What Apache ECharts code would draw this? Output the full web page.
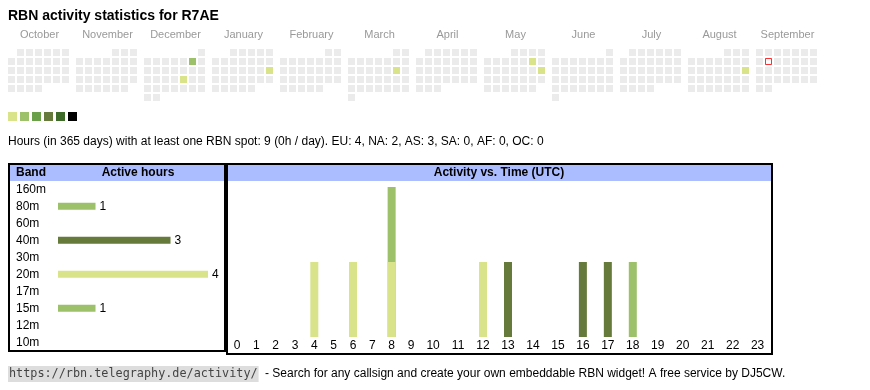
<!DOCTYPE html>
<html><head><meta charset="utf-8">
<script src="https://cdn.jsdelivr.net/npm/echarts@6/dist/echarts.min.js"></script>
<style>html,body{margin:0;padding:0;background:#fff}#c{width:870px;height:390px}</style>
</head><body><div id="c"></div>
<script>
// ---------- data ----------
const titleText = 'RBN activity statistics for R7AE';
const months = ['2024-10','2024-11','2024-12','2025-01','2025-02','2025-03','2025-04','2025-05','2025-06','2025-07','2025-08','2025-09'];
const monthNames = ['October','November','December','January','February','March','April','May','June','July','August','September'];
const activeDays = [['2024-12-07',2],['2024-12-20',1],['2025-01-19',1],['2025-03-15',1],['2025-05-10',1],['2025-05-18',1],['2025-08-17',1]];
const today = '2025-09-09';
const levels = [1,2,3,4,5,6];
const statsText = 'Hours (in 365 days) with at least one RBN spot: 9 (0h / day). EU: 4, NA: 2, AS: 3, SA: 0, AF: 0, OC: 0';
const bands = ['160m','80m','60m','40m','30m','20m','17m','15m','12m','10m'];
const bandHours = [0,1,0,3,0,4,0,1,0,0];
const hours = [0,1,2,3,4,5,6,7,8,9,10,11,12,13,14,15,16,17,18,19,20,21,22,23];
const hours20m = [0,0,0,0,1,0,1,0,1,0,0,0,1,0,0,0,0,0,0,0,0,0,0,0];
const hours40m = [0,0,0,0,0,0,0,0,0,0,0,0,0,1,0,0,1,1,0,0,0,0,0,0];
const hours80m = [0,0,0,0,0,0,0,0,1,0,0,0,0,0,0,0,0,0,0,0,0,0,0,0];
const hours15m = [0,0,0,0,0,0,0,0,0,0,0,0,0,0,0,0,0,0,1,0,0,0,0,0];
const linkText = 'https://rbn.telegraphy.de/activity/';
const footerText = '- Search for any callsign and create your own embeddable RBN widget! A free service by DJ5CW.';

// ---------- styles ----------
const levelColors = ['#d9e38a','#9cc16a','#6aa047','#667a3b','#3e6b28','#000000'];
const bandColor = {'160m':levelColors[0],'80m':levelColors[1],'60m':levelColors[1],'40m':levelColors[3],'30m':levelColors[3],'20m':levelColors[0],'17m':levelColors[1],'15m':levelColors[1],'12m':levelColors[0],'10m':levelColors[0]};
const FONT = '"Liberation Sans", Arial, sans-serif';
const HEAD = '#abbcff';

// hour columns laid out like auto-width table cells (width depends on label length)
function cellW(h){ return String(h).length === 1 ? 19.33 : 24.96; }
const hourX = []; let acc = 0;
hours.forEach(h => { hourX.push(acc + cellW(h)/2); acc += cellW(h); });
const totalW = acc;

const chart = echarts.init(document.getElementById('c'), null, {renderer:'canvas'});

const calendars = months.map((m,i) => ({
  range: m, orient: 'vertical', left: 7 + 68*i, top: 48, cellSize: [9,9],
  splitLine: {show:false},
  itemStyle: {color:'#ebebeb', borderColor:'#fff', borderWidth:2},
  dayLabel: {show:false, firstDay:1}, monthLabel:{show:false}, yearLabel:{show:false}
}));

const series = [];
months.forEach((m,i) => {
  series.push({
    type:'scatter', coordinateSystem:'calendar', calendarIndex:i,
    data: activeDays.filter(d => d[0].slice(0,7) === m),
    symbol:'rect', symbolSize:7, itemStyle:{opacity:1}, silent:true
  });
});
const heatIdx = series.map((s,i)=>i);
series.push({
  type:'scatter', coordinateSystem:'calendar', calendarIndex: months.indexOf(today.slice(0,7)),
  data:[[today,0]], symbol:'rect', symbolSize:6,
  itemStyle:{color:'#fff', borderColor:'#ff0000', borderWidth:1}, silent:true
});
// band chart
series.push({
  type:'bar', xAxisIndex:0, yAxisIndex:0, barWidth:7,
  data: bandHours.map((v,i)=>({value:v, itemStyle:{color:bandColor[bands[i]]}})),
  label:{show:true, position:'right', distance:4, color:'#000', fontSize:12, fontFamily:FONT,
    formatter: p => p.value > 0 ? String(p.value) : ''},
  silent:true
});
// activity vs time: stacked by hand (cumulative totals drawn back to front)
const stackList = [[hours20m,'20m'],[hours40m,'40m'],[hours80m,'80m'],[hours15m,'15m']];
const cumulative = [];
stackList.forEach(([arr], k) => {
  cumulative.push(arr.map((v,i) => v + (k > 0 ? cumulative[k-1][i] : 0)));
});
for (let k = stackList.length - 1; k >= 0; k--) {
  const b = stackList[k][1];
  series.push({
    type:'bar', xAxisIndex:1, yAxisIndex:1, barWidth:8, barGap:'-100%', name:b,
    data: cumulative[k].map((v,i)=>[hourX[i], stackList[k][0][i] > 0 ? v : 0]),
    itemStyle:{color:bandColor[b]}, z: 10 + (stackList.length - k), silent:true
  });
}

const graphics = [];
// month labels
monthNames.forEach((n,i) => graphics.push({type:'text', x: 8 + 68*i + 31.5, y: 35,
  style:{text:n, fill:'#999', font:'11px '+FONT, textAlign:'center', textVerticalAlign:'middle'}}));
graphics.push({type:'text', x:8, y:142, style:{text:statsText, fill:'#000', font:'12px '+FONT, textVerticalAlign:'middle'}});
// boxes
graphics.push({type:'rect', shape:{x:10,y:165,width:214,height:16}, style:{fill:HEAD}, z:-1});
graphics.push({type:'rect', shape:{x:228,y:165,width:543,height:16}, style:{fill:HEAD}, z:-1});
graphics.push({type:'rect', shape:{x:9,y:164,width:216,height:187}, style:{fill:null, stroke:'#000', lineWidth:2}});
graphics.push({type:'rect', shape:{x:227,y:164,width:545,height:190}, style:{fill:null, stroke:'#000', lineWidth:2}});
graphics.push({type:'text', x:16, y:173, style:{text:'Band', fill:'#000', font:'bold 12px '+FONT, textVerticalAlign:'middle'}});
graphics.push({type:'text', x:138, y:173, style:{text:'Active hours', fill:'#000', font:'bold 12px '+FONT, textAlign:'center', textVerticalAlign:'middle'}});
graphics.push({type:'text', x:499, y:173, style:{text:'Activity vs. Time (UTC)', fill:'#000', font:'bold 12px '+FONT, textAlign:'center', textVerticalAlign:'middle'}});
// footer
graphics.push({type:'text', x:8, y:374, style:{text:linkText, fill:'#444', font:'11.8px "DejaVu Sans Mono", monospace', textVerticalAlign:'middle', backgroundColor:'#dddddd', padding:[2,1,2,1]}});
graphics.push({type:'text', x:265, y:374, style:{text:footerText, fill:'#000', font:'12px '+FONT, textVerticalAlign:'middle'}});

chart.setOption({
  animation:false,
  title:{text:titleText, left:8, top:9, padding:0, textStyle:{fontSize:14, fontWeight:'bold', color:'#000', fontFamily:FONT}},
  calendar: calendars,
  visualMap: {
    type:'piecewise', orient:'horizontal', left:8, top:112, padding:0,
    itemWidth:9, itemHeight:9, itemGap:3, itemSymbol:'rect', showLabel:false, selectedMode:false,
    seriesIndex: heatIdx,
    pieces: levels.map((v,i) => i < levels.length-1 ? {value:v, color:levelColors[i]} : {min:v, color:levelColors[i]})
  },
  grid:[
    {left:58, top:180.8, width:150, height:170},
    {left:237 - cellW(0)/2, top:187, width:totalW, height:150}
  ],
  xAxis:[
    {gridIndex:0, type:'value', min:0, max:4, show:false},
    {gridIndex:1, type:'value', min:0, max:totalW,
      axisLine:{show:false}, axisTick:{show:false}, splitLine:{show:false},
      axisLabel:{customValues: hourX, margin:3, color:'#000', fontSize:12, fontFamily:FONT,
        formatter: v => { const i = hourX.findIndex(x => Math.abs(x - v) < 0.01); return i >= 0 ? String(hours[i]) : ''; }}}
  ],
  yAxis:[
    {gridIndex:0, type:'category', data:bands, inverse:true,
      axisLine:{show:false}, axisTick:{show:false}, splitLine:{show:false},
      axisLabel:{align:'left', margin:42, color:'#000', fontSize:12, fontFamily:FONT}},
    {gridIndex:1, type:'value', min:0, max:2, show:false}
  ],
  series: series,
  graphic: graphics
});
</script>
</body></html>
